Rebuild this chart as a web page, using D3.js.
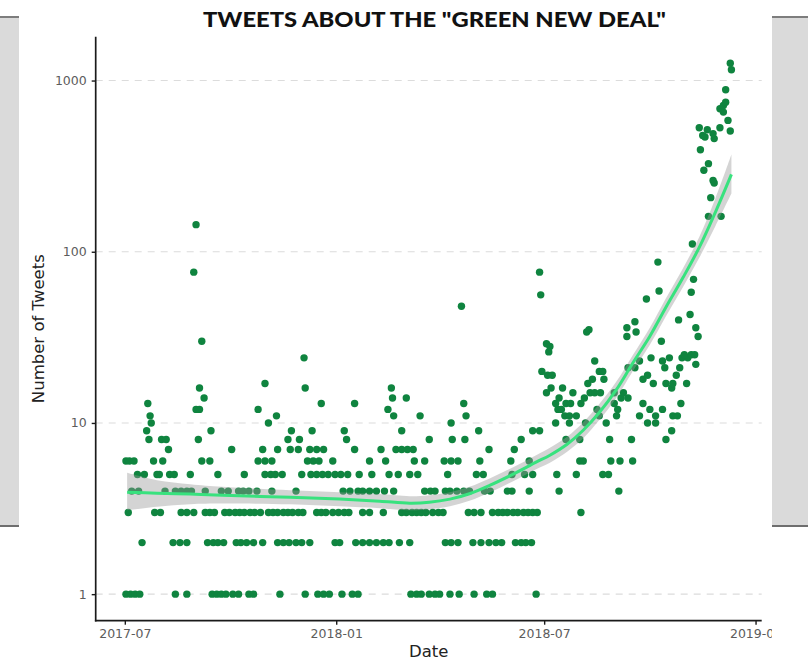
<!DOCTYPE html>
<html>
<head>
<meta charset="utf-8">
<script src="https://cdn.jsdelivr.net/npm/d3@7"></script>
<style>
  html, body { margin: 0; padding: 0; background: #fff; }
  svg { display: block; }
</style>
</head>
<body>
<svg id="chart" width="808" height="660"></svg>
<script>
// ---- data -------------------------------------------------------------
const chartTitle = 'TWEETS ABOUT THE "GREEN NEW DEAL"';
const xLabel = "Date";
const yLabel = "Number of Tweets";
const startDay = Date.UTC(2017, 6, 1); // day 0 = 2017-07-01

// daily tweet counts, grouped by count: countLevels[i] tweets on each day in daysAtLevel[i]
const countLevels = [1, 2, 3, 4, 5, 6, 7, 8, 9, 10, 11, 12, 13, 14, 15, 16, 17, 18, 19, 20,
  21, 22, 23, 24, 25, 26, 28, 29, 30, 32, 34, 35, 36, 39, 40, 43, 48, 53, 56, 58, 59, 69,
  76, 87, 111, 144, 161, 207, 252, 261, 299, 327, 394, 458, 468, 478, 490, 507, 516, 530,
  585, 654, 684, 716, 748, 884, 1156, 1262];
const daysAtLevel = [
  [1,5,9,13,44,54,76,80,84,88,94,99,108,112,135,157,168,173,178,189,198,203,249,254,258,265,270,274,283,291,304,315,320,358],
  [15,42,48,54,72,77,81,86,97,101,106,112,120,133,138,143,149,154,161,183,187,201,207,213,219,225,230,239,248,279,284,290,303,310,317,323,328,340,345,349,354],
  [3,26,31,49,54,60,70,74,78,87,91,96,100,104,109,113,118,125,129,133,138,142,146,151,155,167,171,175,181,186,191,195,207,213,225,241,245,250,254,258,262,268,273,277,299,304,310,320,325,329,333,338,342,347,351,355,359,397],
  [6,12,35,44,49,54,58,70,84,90,99,103,108,115,128,149,190,196,203,207,213,219,226,234,261,266,270,279,283,289,295,300,313,318,333,337,352,378,430],
  [11,17,28,30,39,43,57,81,104,122,127,131,137,154,162,167,172,177,183,188,194,204,215,230,238,248,255,281,306,312,337,348,355,376,393,416,421],
  [1,4,8,25,33,67,74,116,122,128,159,164,169,181,213,227,252,261,278,284,290,309,336,352,396,399,423,431,442],
  [38,93,120,133,144,151,161,167,173,200,223,236,241,246,251,317,339],
  [21,32,36,64,142,152,193,265,285,296,345,384,396,422,441,471],
  [19,75,145,163,191,241,308,355,361,476],
  [23,125,284,375,387,401,419,455,462],
  [22,132,234,257,297,383,387,393,413,428,448,462,477,481],
  [62,65,116,229,377,380,411,429,457,468],
  [20,171,200,295,375,384,388,397,426,451,484],
  [69,233,245,378,400,432,438],
  [367,390,405,409,414,426,434],
  [65,157,232,371,381,476],
  [122,403,460,471,477,489],
  [407,417,451],
  [368,372,455,480],
  [363,413,416],
  [438,444,470,483],
  [497],
  [409,448,468],
  [156,458,474,485,490],
  [487,493,496],
  [369],
  [370],
  [367],
  [67,467],
  [437,499],
  [402,445],
  [404],
  [437,497],
  [444],
  [482],
  [492],
  [293],
  [454],
  [362],
  [493],
  [465],
  [495],
  [60,361],
  [464],
  [494],
  [62],
  [508,519],
  [510],
  [513],
  [512],
  [504],
  [508],
  [501],
  [513],
  [505],
  [503],
  [512],
  [527],
  [507],
  [500,518],
  [525],
  [521],
  [518],
  [521],
  [523],
  [523],
  [528],
  [527]
];

// loess trend with its confidence band
const fitDays   = [2, 28, 57, 85, 144, 187, 222, 248, 265, 283, 300, 318, 338, 358, 370, 385, 399, 413, 428, 442, 457, 471, 486, 500, 514, 528];
const fitValues = [3.94, 3.89, 3.84, 3.78, 3.68, 3.59, 3.49, 3.40, 3.44, 3.59, 3.86, 4.33, 5.02, 5.90, 6.48, 7.51, 9.07, 11.5, 15.7, 22.3, 32.1, 47.4, 70.9, 106, 170, 283];
const fitLower  = [3.09, 3.24, 3.35, 3.38, 3.35, 3.26, 3.18, 3.09, 3.13, 3.26, 3.51, 3.94, 4.57, 5.37, 5.86, 6.79, 8.14, 10.4, 14.1, 20.0, 28.6, 42.0, 62.4, 92.1, 141, 219];
const fitUpper  = [5.11, 4.63, 4.39, 4.24, 4.05, 3.94, 3.84, 3.73, 3.78, 3.94, 4.24, 4.76, 5.51, 6.48, 7.17, 8.31, 10.1, 12.9, 17.5, 24.8, 36.0, 53.5, 80.5, 122, 205, 370];

const xTickDates = ["2017-07-01", "2018-01-01", "2018-07-01", "2019-01-01"];
const yTickValues = [1, 10, 100, 1000];

// ---- build -------------------------------------------------------------
const dayToDate = d => new Date(startDay + d * 864e5);

const points = [];
countLevels.forEach((c, i) => daysAtLevel[i].forEach(d => points.push({ date: dayToDate(d), count: c })));
const trend = fitDays.map((d, i) => ({ date: dayToDate(d), fit: fitValues[i], lo: fitLower[i], hi: fitUpper[i] }));

const svg = d3.select("#chart");
const W = 808, H = 660;

// backdrop panels at either side
const sidePanels = [{ x0: 0, x1: 19 }, { x0: 772, x1: 808 }];
sidePanels.forEach(p => {
  svg.append("rect").attr("x", p.x0).attr("y", 17).attr("width", p.x1 - p.x0).attr("height", 509)
    .attr("fill", "#dadada");
  svg.append("rect").attr("x", p.x0).attr("y", 16).attr("width", p.x1 - p.x0).attr("height", 2)
    .attr("fill", "#7d7d7d");
  svg.append("rect").attr("x", p.x0).attr("y", 525).attr("width", p.x1 - p.x0).attr("height", 2)
    .attr("fill", "#6e6e6e");
});

// chart canvas
svg.append("defs").append("clipPath").attr("id", "canvas")
  .append("rect").attr("x", 19).attr("y", 0).attr("width", 753).attr("height", H);
const g = svg.append("g").attr("clip-path", "url(#canvas)");
g.append("rect").attr("x", 19).attr("y", 0).attr("width", 753).attr("height", H).attr("fill", "#fff");

const plot = { left: 95.7, right: 761.7, top: 36.7, bottom: 620.7 };

// ggplot-style 5% expansion of the data range
const dExt = d3.extent(points, p => +p.date);
const dPad = (dExt[1] - dExt[0]) * 0.05;
const x = d3.scaleUtc().domain([new Date(dExt[0] - dPad), new Date(dExt[1] + dPad)])
  .range([plot.left, plot.right]);

const cExt = d3.extent(points, p => Math.log10(p.count));
const cPad = (cExt[1] - cExt[0]) * 0.05;
const y = d3.scaleLog().domain([Math.pow(10, cExt[0] - cPad), Math.pow(10, cExt[1] + cPad)])
  .range([plot.bottom, plot.top]);

// dashed horizontal grid
g.append("g").selectAll("line").data(yTickValues).join("line")
  .attr("x1", plot.left).attr("x2", plot.right)
  .attr("y1", d => y(d)).attr("y2", d => y(d))
  .attr("stroke", "#dcdcdc").attr("stroke-width", 1.1).attr("stroke-dasharray", "7,6");

// daily counts
g.append("g").selectAll("circle").data(points).join("circle")
  .attr("cx", p => x(p.date)).attr("cy", p => y(p.count)).attr("r", 3.7)
  .attr("fill", "#0f843f");

// confidence band and trend line
const smooth = d3.curveCatmullRom.alpha(0.5);
g.append("path").datum(trend)
  .attr("d", d3.area().x(d => x(d.date)).y0(d => y(d.lo)).y1(d => y(d.hi)).curve(smooth))
  .attr("fill", "#999").attr("fill-opacity", 0.42);
g.append("path").datum(trend)
  .attr("d", d3.line().x(d => x(d.date)).y(d => y(d.fit)).curve(smooth))
  .attr("fill", "none").attr("stroke", "#38e27e").attr("stroke-width", 3);

// axes
const tickFont = "DejaVu Sans, sans-serif";
const xAxis = g.append("g").attr("transform", `translate(0,${plot.bottom})`)
  .call(d3.axisBottom(x).tickValues(xTickDates.map(s => new Date(s + "T00:00:00Z")))
    .tickFormat(d3.utcFormat("%Y-%m")).tickSize(4).tickPadding(4).tickSizeOuter(0));
const yAxis = g.append("g").attr("transform", `translate(${plot.left},0)`)
  .call(d3.axisLeft(y).tickValues(yTickValues).tickFormat(d3.format("d"))
    .tickSize(4).tickPadding(5).tickSizeOuter(0));
[xAxis, yAxis].forEach(a => {
  a.select(".domain").attr("stroke", "#1a1a1a").attr("stroke-width", 1.7);
  a.selectAll(".tick line").attr("stroke", "#1a1a1a").attr("stroke-width", 1.4);
  a.selectAll(".tick text").attr("fill", "#5c5c5c").attr("font-family", tickFont)
    .attr("font-size", 12.5);
});
// extend the axis lines so they meet at the corner
xAxis.select(".domain").attr("d", `M${plot.left - 0.8},0H${plot.right}`);
yAxis.select(".domain").attr("d", `M0,${plot.top}V${plot.bottom + 0.8}`);

// titles
g.append("text").attr("x", 434.5).attr("y", 27).attr("text-anchor", "middle")
  .attr("font-family", "Lato, 'DejaVu Sans', sans-serif").attr("font-weight", 900)
  .attr("font-size", 20).attr("fill", "#111")
  .attr("textLength", 463).attr("lengthAdjust", "spacingAndGlyphs")
  .text(chartTitle);
g.append("text").attr("x", (plot.left + plot.right) / 2).attr("y", 657).attr("text-anchor", "middle")
  .attr("font-family", tickFont).attr("font-size", 16.5).attr("fill", "#222").text(xLabel);
g.append("text").attr("transform", `translate(44,${(plot.top + plot.bottom) / 2}) rotate(-90)`)
  .attr("text-anchor", "middle")
  .attr("font-family", tickFont).attr("font-size", 16.5).attr("fill", "#222").text(yLabel);
</script>
</body>
</html>
